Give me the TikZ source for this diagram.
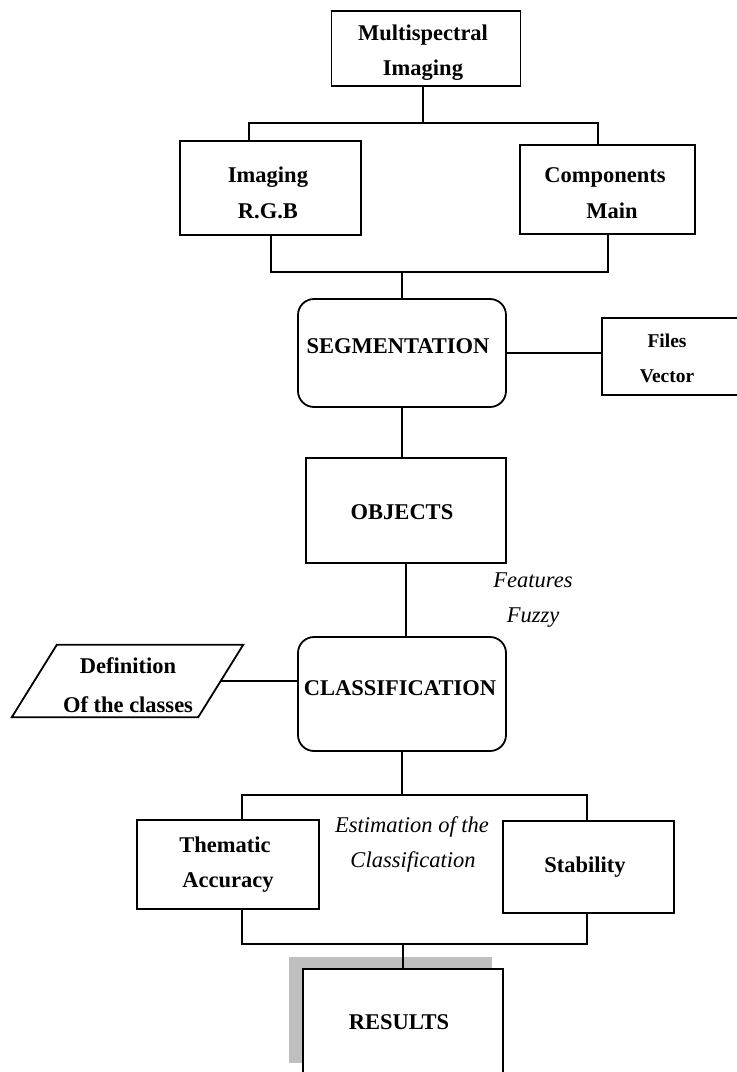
\documentclass[tikz,border=0pt]{standalone}
\usepackage{fontspec}
\setmainfont{Liberation Serif}
\begin{document}
\begin{tikzpicture}[x=1pt,y=-1pt,
  box/.style={draw, line width=1.8pt, inner sep=0pt, fill=white},
  rbox/.style={box, rounded corners=16pt},
  conn/.style={line width=1.8pt},
  lbl/.style={font=\fontsize{22.5}{27}\selectfont\bfseries, anchor=base, inner sep=0pt},
  slbl/.style={font=\fontsize{19.5}{24}\selectfont\bfseries, anchor=base, inner sep=0pt},
  ilbl/.style={font=\fontsize{22.5}{27}\selectfont\itshape, anchor=base, inner sep=0pt}]
\useasboundingbox (0,0) rectangle (737,1072);
\clip (0,0) rectangle (737,1072);
% boxes
\node[box, minimum width=189pt, minimum height=75pt] (ms) at (426,48.5) {};
\node[box, minimum width=181pt, minimum height=94pt] (rgb) at (270.5,188) {};
\node[box, minimum width=175pt, minimum height=89pt] (comp) at (607.5,189.5) {};
\node[rbox, minimum width=208pt, minimum height=108pt] (seg) at (402,353) {};
\node[box, minimum width=138pt, minimum height=77pt] (files) at (671,356.5) {};
\node[box, minimum width=200pt, minimum height=105pt] (obj) at (406,510.5) {};
\node[rbox, minimum width=208pt, minimum height=114pt] (class) at (402,694) {};
\node[inner sep=0pt, minimum width=186pt, minimum height=72pt] (def) at (127.5,681) {};
\draw[line width=1.8pt] ([xshift=22.5pt]def.north west) -- ([xshift=22.5pt]def.north east)
  -- ([xshift=-22.5pt]def.south east) -- ([xshift=-22.5pt]def.south west) -- cycle;
\node[box, minimum width=182pt, minimum height=89pt] (them) at (228,864.5) {};
\node[box, minimum width=171pt, minimum height=92pt] (stab) at (588.5,867) {};
\node[fill=gray!50, inner sep=0pt, minimum width=203pt, minimum height=106pt] (shadow) at (390.5,1010) {};
\node[box, minimum width=200pt, minimum height=121pt] (res) at (403,1029.5) {};
% labels
\node[lbl] (tms1) at (423,40) {Multispectral};
\node[lbl] (tms2) at (423,75) {Imaging};
\node[lbl] (trgb1) at (268,182) {Imaging};
\node[lbl] (trgb2) at (268,218) {R.G.B};
\node[lbl] (tcomp1) at (605,182) {Components};
\node[lbl] (tcomp2) at (612,218) {Main};
\node[lbl] (tseg) at (398,353) {SEGMENTATION};
\node[slbl] (tfil1) at (667,347) {Files};
\node[slbl] (tfil2) at (667,382) {Vector};
\node[lbl] (tobj) at (402,519) {OBJECTS};
\node[ilbl] (tfea1) at (533,587) {Features};
\node[ilbl] (tfea2) at (533,622) {Fuzzy};
\node[lbl] (tclass) at (400,695) {CLASSIFICATION};
\node[lbl] (tdef1) at (128,673) {Definition};
\node[lbl] (tdef2) at (128,712) {Of the classes};
\node[lbl] (tthem1) at (225,852) {Thematic};
\node[lbl] (tthem2) at (228,887) {Accuracy};
\node[ilbl] (test1) at (412,832) {Estimation of the};
\node[ilbl] (test2) at (413,867) {Classification};
\node[lbl] (tstab) at (585,872) {Stability};
\node[lbl] (tres) at (399,1029) {RESULTS};
% junctions
\coordinate (a0) at (423,123);
\coordinate (a1) at (249,123);
\coordinate (a2) at (598,123);
\coordinate (b1) at (271,272);
\coordinate (b2) at (608,272);
\coordinate (c1) at (242,795);
\coordinate (c2) at (587,795);
\coordinate (d1) at (242,944);
\coordinate (d2) at (587,944);
% connectors
\draw[conn] (a0 |- ms.south) -- (a0);
\draw[conn] (a1 |- rgb.north) -- (a1) -- (a2) -- (a2 |- comp.north);
\draw[conn] (b1 |- rgb.south) -- (b1) -- (b2) -- (b2 |- comp.south);
\draw[conn] (seg.north) -- (seg.north |- b1);
\draw[conn] (seg.east) -- (seg.east -| files.west);
\draw[conn] (seg.south) -- (seg.south |- obj.north);
\draw[conn] (obj.south) -- (obj.south |- class.north);
\draw[conn] (def.east) -- (def.east -| class.west);
\draw[conn] (class.south) -- (class.south |- c1);
\draw[conn] (c1 |- them.north) -- (c1) -- (c2) -- (c2 |- stab.north);
\draw[conn] (d1 |- them.south) -- (d1) -- (d2) -- (d2 |- stab.south);
\draw[conn] (res.north) -- (res.north |- d1);
\end{tikzpicture}
\end{document}
